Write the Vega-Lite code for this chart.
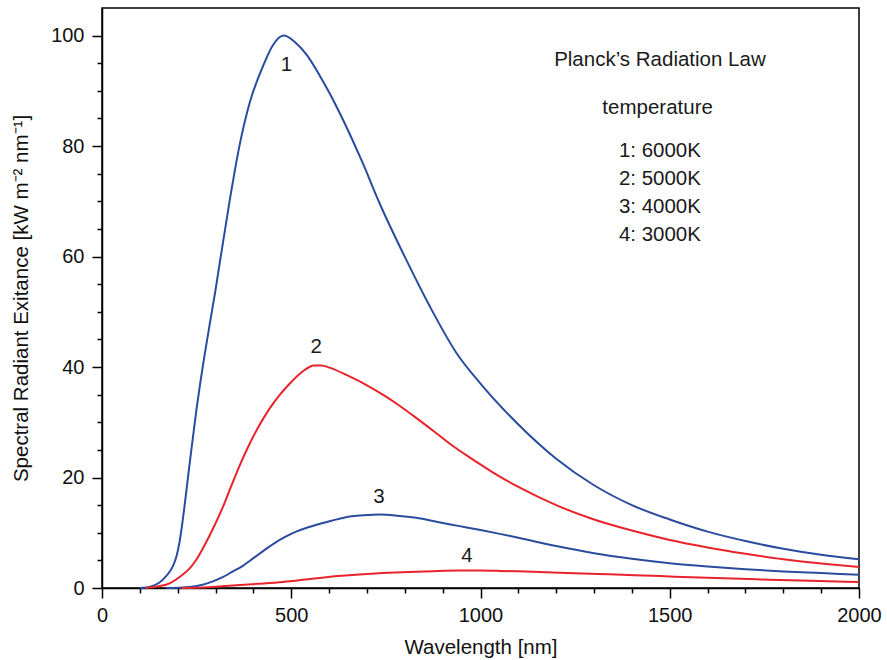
{
  "$schema": "https://vega.github.io/schema/vega-lite/v6.json",
  "width": 757,
  "height": 580,
  "autosize": {"type": "none"},
  "padding": {"left": 102, "top": 8, "right": 28, "bottom": 72},
  "background": "white",
  "config": {
    "view": {"stroke": "black", "strokeWidth": 1.5},
    "font": "Liberation Sans",
    "axis": {
      "grid": false,
      "domainColor": "black",
      "domainWidth": 1.5,
      "tickColor": "black",
      "tickWidth": 1.5,
      "labelColor": "#111",
      "titleColor": "#111",
      "labelFont": "Liberation Sans",
      "titleFont": "Liberation Sans",
      "labelFontSize": 20,
      "titleFontSize": 20.5,
      "titleFontWeight": "normal",
      "labelFlush": false,
      "labelOverlap": false
    }
  },
  "datasets": {
    "curves": [
      {"s": "6000K", "wl": 100, "v": 0}, {"s": "6000K", "wl": 130, "v": 0.3}, {"s": "6000K", "wl": 152, "v": 1.0}, {"s": "6000K", "wl": 170, "v": 2.2}, {"s": "6000K", "wl": 187, "v": 3.9}, {"s": "6000K", "wl": 197, "v": 5.8}, {"s": "6000K", "wl": 205, "v": 8.4}, {"s": "6000K", "wl": 212, "v": 11.6}, {"s": "6000K", "wl": 218, "v": 14.8}, {"s": "6000K", "wl": 231, "v": 22.2}, {"s": "6000K", "wl": 249, "v": 32}, {"s": "6000K", "wl": 266, "v": 40}, {"s": "6000K", "wl": 284, "v": 47.5}, {"s": "6000K", "wl": 300, "v": 54}, {"s": "6000K", "wl": 311, "v": 58.8}, {"s": "6000K", "wl": 337, "v": 70}, {"s": "6000K", "wl": 363, "v": 80}, {"s": "6000K", "wl": 390, "v": 87.8}, {"s": "6000K", "wl": 425, "v": 94.4}, {"s": "6000K", "wl": 451, "v": 98.2}, {"s": "6000K", "wl": 480, "v": 100}, {"s": "6000K", "wl": 510, "v": 98.8}, {"s": "6000K", "wl": 540, "v": 96.6}, {"s": "6000K", "wl": 575, "v": 92.8}, {"s": "6000K", "wl": 601, "v": 89.6}, {"s": "6000K", "wl": 628, "v": 86}, {"s": "6000K", "wl": 689, "v": 76.9}, {"s": "6000K", "wl": 733, "v": 69.7}, {"s": "6000K", "wl": 804, "v": 59.4}, {"s": "6000K", "wl": 866, "v": 51}, {"s": "6000K", "wl": 936, "v": 42.6}, {"s": "6000K", "wl": 1000, "v": 37}, {"s": "6000K", "wl": 1100, "v": 29.6}, {"s": "6000K", "wl": 1200, "v": 23.4}, {"s": "6000K", "wl": 1300, "v": 18.6}, {"s": "6000K", "wl": 1400, "v": 15.0}, {"s": "6000K", "wl": 1500, "v": 12.4}, {"s": "6000K", "wl": 1600, "v": 10.2}, {"s": "6000K", "wl": 1700, "v": 8.5}, {"s": "6000K", "wl": 1800, "v": 7.1}, {"s": "6000K", "wl": 1900, "v": 6.0}, {"s": "6000K", "wl": 2000, "v": 5.2},
      {"s": "5000K", "wl": 115, "v": 0}, {"s": "5000K", "wl": 150, "v": 0.3}, {"s": "5000K", "wl": 180, "v": 0.9}, {"s": "5000K", "wl": 205, "v": 2.0}, {"s": "5000K", "wl": 231, "v": 3.5}, {"s": "5000K", "wl": 250, "v": 5.2}, {"s": "5000K", "wl": 270, "v": 7.6}, {"s": "5000K", "wl": 295, "v": 11}, {"s": "5000K", "wl": 319, "v": 14.6}, {"s": "5000K", "wl": 340, "v": 18.2}, {"s": "5000K", "wl": 362, "v": 21.9}, {"s": "5000K", "wl": 385, "v": 25.4}, {"s": "5000K", "wl": 412, "v": 29}, {"s": "5000K", "wl": 440, "v": 32.2}, {"s": "5000K", "wl": 469, "v": 34.9}, {"s": "5000K", "wl": 500, "v": 37.3}, {"s": "5000K", "wl": 530, "v": 39.2}, {"s": "5000K", "wl": 560, "v": 40.3}, {"s": "5000K", "wl": 580, "v": 40.3}, {"s": "5000K", "wl": 601, "v": 39.9}, {"s": "5000K", "wl": 654, "v": 38.3}, {"s": "5000K", "wl": 700, "v": 36.7}, {"s": "5000K", "wl": 742, "v": 35}, {"s": "5000K", "wl": 786, "v": 33}, {"s": "5000K", "wl": 830, "v": 30.8}, {"s": "5000K", "wl": 880, "v": 28.2}, {"s": "5000K", "wl": 927, "v": 25.7}, {"s": "5000K", "wl": 970, "v": 23.7}, {"s": "5000K", "wl": 1006, "v": 22.1}, {"s": "5000K", "wl": 1050, "v": 20.2}, {"s": "5000K", "wl": 1100, "v": 18.3}, {"s": "5000K", "wl": 1200, "v": 15.0}, {"s": "5000K", "wl": 1300, "v": 12.4}, {"s": "5000K", "wl": 1400, "v": 10.4}, {"s": "5000K", "wl": 1500, "v": 8.7}, {"s": "5000K", "wl": 1600, "v": 7.35}, {"s": "5000K", "wl": 1700, "v": 6.2}, {"s": "5000K", "wl": 1800, "v": 5.2}, {"s": "5000K", "wl": 1900, "v": 4.45}, {"s": "5000K", "wl": 2000, "v": 3.8},
      {"s": "4000K", "wl": 170, "v": 0}, {"s": "4000K", "wl": 231, "v": 0.2}, {"s": "4000K", "wl": 260, "v": 0.5}, {"s": "4000K", "wl": 293, "v": 1.2}, {"s": "4000K", "wl": 320, "v": 2.0}, {"s": "4000K", "wl": 346, "v": 3.0}, {"s": "4000K", "wl": 370, "v": 3.9}, {"s": "4000K", "wl": 390, "v": 4.9}, {"s": "4000K", "wl": 420, "v": 6.4}, {"s": "4000K", "wl": 451, "v": 7.9}, {"s": "4000K", "wl": 480, "v": 9.1}, {"s": "4000K", "wl": 513, "v": 10.2}, {"s": "4000K", "wl": 545, "v": 11}, {"s": "4000K", "wl": 575, "v": 11.6}, {"s": "4000K", "wl": 601, "v": 12.1}, {"s": "4000K", "wl": 630, "v": 12.6}, {"s": "4000K", "wl": 660, "v": 13}, {"s": "4000K", "wl": 700, "v": 13.2}, {"s": "4000K", "wl": 735, "v": 13.3}, {"s": "4000K", "wl": 780, "v": 13.1}, {"s": "4000K", "wl": 830, "v": 12.7}, {"s": "4000K", "wl": 890, "v": 11.9}, {"s": "4000K", "wl": 945, "v": 11.2}, {"s": "4000K", "wl": 1000, "v": 10.5}, {"s": "4000K", "wl": 1051, "v": 9.8}, {"s": "4000K", "wl": 1100, "v": 9.1}, {"s": "4000K", "wl": 1200, "v": 7.6}, {"s": "4000K", "wl": 1300, "v": 6.3}, {"s": "4000K", "wl": 1400, "v": 5.3}, {"s": "4000K", "wl": 1500, "v": 4.5}, {"s": "4000K", "wl": 1600, "v": 3.9}, {"s": "4000K", "wl": 1700, "v": 3.4}, {"s": "4000K", "wl": 1800, "v": 3.0}, {"s": "4000K", "wl": 1900, "v": 2.7}, {"s": "4000K", "wl": 2000, "v": 2.4},
      {"s": "3000K", "wl": 210, "v": 0}, {"s": "3000K", "wl": 280, "v": 0.15}, {"s": "3000K", "wl": 346, "v": 0.45}, {"s": "3000K", "wl": 410, "v": 0.75}, {"s": "3000K", "wl": 478, "v": 1.1}, {"s": "3000K", "wl": 545, "v": 1.6}, {"s": "3000K", "wl": 610, "v": 2.1}, {"s": "3000K", "wl": 680, "v": 2.45}, {"s": "3000K", "wl": 742, "v": 2.7}, {"s": "3000K", "wl": 810, "v": 2.9}, {"s": "3000K", "wl": 875, "v": 3.05}, {"s": "3000K", "wl": 945, "v": 3.15}, {"s": "3000K", "wl": 1000, "v": 3.15}, {"s": "3000K", "wl": 1051, "v": 3.1}, {"s": "3000K", "wl": 1120, "v": 2.97}, {"s": "3000K", "wl": 1209, "v": 2.78}, {"s": "3000K", "wl": 1340, "v": 2.47}, {"s": "3000K", "wl": 1474, "v": 2.15}, {"s": "3000K", "wl": 1600, "v": 1.85}, {"s": "3000K", "wl": 1738, "v": 1.56}, {"s": "3000K", "wl": 1870, "v": 1.3}, {"s": "3000K", "wl": 2000, "v": 1.1}
    ],
    "labels": [
      {"wl": 487, "v": 94.7, "t": "1"},
      {"wl": 566, "v": 43.7, "t": "2"},
      {"wl": 732, "v": 16.5, "t": "3"},
      {"wl": 964, "v": 5.75, "t": "4"},
      {"wl": 1474, "v": 95.6, "t": "Planck’s Radiation Law"},
      {"wl": 1468, "v": 86.9, "t": "temperature"},
      {"wl": 1474, "v": 79.2, "t": "1: 6000K"},
      {"wl": 1474, "v": 74.1, "t": "2: 5000K"},
      {"wl": 1474, "v": 68.9, "t": "3: 4000K"},
      {"wl": 1474, "v": 63.9, "t": "4: 3000K"}
    ]
  },
  "encoding": {
    "x": {
      "field": "wl", "type": "quantitative",
      "scale": {"domain": [0, 2000], "nice": false, "zero": false},
      "axis": {
        "title": "Wavelength [nm]",
        "values": [0,100,200,300,400,500,600,700,800,900,1000,1100,1200,1300,1400,1500,1600,1700,1800,1900,2000],
        "format": "d",
        "labelExpr": "datum.value % 500 === 0 ? datum.label : ''",
        "tickSize": {"condition": {"test": "datum.value % 500 === 0", "value": 10}, "value": 5},
        "labelPadding": 7,
        "titlePadding": 12
      }
    },
    "y": {
      "field": "v", "type": "quantitative",
      "scale": {"domain": [0, 105], "nice": false},
      "axis": {
        "title": "Spectral Radiant Exitance [kW m⁻² nm⁻¹]",
        "values": [0,5,10,15,20,25,30,35,40,45,50,55,60,65,70,75,80,85,90,95,100],
        "format": "d",
        "labelExpr": "datum.value % 20 === 0 ? datum.label : ''",
        "tickSize": {"condition": {"test": "datum.value % 20 === 0", "value": 10}, "value": 5},
        "labelPadding": 8,
        "titlePadding": 19
      }
    }
  },
  "layer": [
    {
      "data": {"name": "curves"},
      "mark": {"type": "line", "strokeWidth": 2, "interpolate": "monotone"},
      "encoding": {
        "color": {
          "field": "s", "type": "nominal",
          "scale": {"domain": ["6000K", "5000K", "4000K", "3000K"], "range": ["#2a4c9e", "#e8232b", "#2a4c9e", "#e8232b"]},
          "legend": null
        },
        "detail": {"field": "s"}
      }
    },
    {
      "data": {"name": "labels"},
      "mark": {"type": "text", "fontSize": 20.5, "align": "center", "baseline": "middle", "color": "#1a1a1a", "font": "Liberation Sans"},
      "encoding": {"text": {"field": "t"}}
    }
  ]
}
